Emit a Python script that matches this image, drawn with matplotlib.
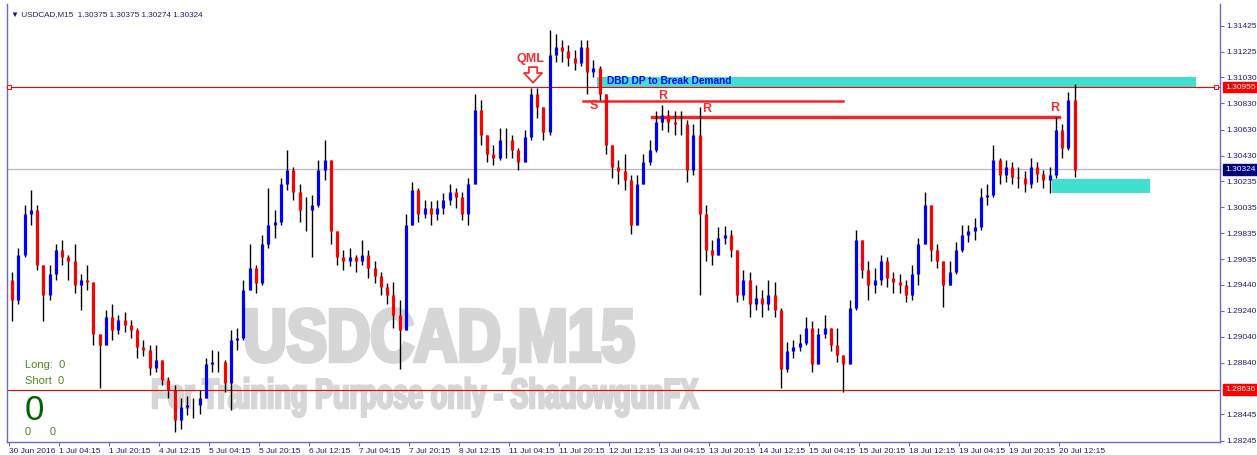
import matplotlib
matplotlib.use("Agg")
import matplotlib.pyplot as plt
import numpy as np
from matplotlib.textpath import TextPath
from matplotlib.patches import PathPatch
from matplotlib.font_manager import FontProperties
from matplotlib.transforms import Affine2D

# USDCAD M15, resampled to 2h candles (8 bars each)
closes = [
    1.2932, 1.2967, 1.2998, 1.3001, 1.2959, 1.2936, 1.2952, 1.2971, 1.2965, 1.2962,
    1.2944, 1.2948, 1.2946, 1.2906, 1.2898, 1.2919, 1.2909, 1.2917, 1.2913, 1.2909,
    1.2896, 1.2894, 1.2880, 1.2886, 1.2871, 1.2863, 1.2840, 1.2850, 1.2852, 1.2852,
    1.2857, 1.2883, 1.2885, 1.2885, 1.2869, 1.2902, 1.2903, 1.2940, 1.2957, 1.2945,
    1.2975, 1.2990, 1.2992, 1.3021, 1.3032, 1.3015, 1.3001, 1.3001, 1.3005, 1.3032,
    1.3040, 1.2985, 1.2965, 1.2962, 1.2965, 1.2962, 1.2967, 1.2957, 1.2951, 1.2942,
    1.2936, 1.2921, 1.2909, 1.2990, 1.3017, 1.2998, 1.3003, 1.2998, 1.3003, 1.3009,
    1.3015, 1.3011, 1.2998, 1.3021, 1.3078, 1.3059, 1.3044, 1.3041, 1.3055, 1.3055,
    1.3047, 1.3038, 1.3057, 1.3090, 1.3080, 1.3061, 1.3120, 1.3126, 1.3123, 1.3118,
    1.3114, 1.3126, 1.3107, 1.3110, 1.3090, 1.3051, 1.3034, 1.3031, 1.3024, 1.2990,
    1.3021, 1.3038, 1.3047, 1.3069, 1.3074, 1.3069, 1.3067, 1.3067, 1.3032, 1.3059,
    1.2998, 1.2971, 1.2967, 1.2980, 1.2982, 1.2971, 1.2936, 1.2948, 1.2929, 1.2934,
    1.2929, 1.2936, 1.2925, 1.2879, 1.2893, 1.2896, 1.2899, 1.2911, 1.2883, 1.2906,
    1.2911, 1.2898, 1.2890, 1.2883, 1.2926, 1.2978, 1.2955, 1.2944, 1.2948, 1.2962,
    1.2949, 1.2946, 1.2944, 1.2936, 1.2952, 1.2975, 1.3005, 1.2971, 1.2962, 1.2944,
    1.2954, 1.2971, 1.2982, 1.2985, 1.2988, 1.3011, 1.3013, 1.3040, 1.3028, 1.3034,
    1.3027, 1.3026, 1.3021, 1.3034, 1.3029, 1.3024, 1.3028, 1.3063, 1.3049, 1.3086,
    1.3032,
]
highs = [
    1.2954, 1.2972, 1.3005, 1.3017, 1.3005, 1.2955, 1.2959, 1.2975, 1.2978, 1.2967,
    1.2975, 1.2952, 1.2959, 1.2944, 1.2906, 1.2925, 1.2929, 1.2921, 1.2923, 1.2917,
    1.2911, 1.2902, 1.2898, 1.2898, 1.2886, 1.2873, 1.2867, 1.2857, 1.2859, 1.2857,
    1.2863, 1.2888, 1.2894, 1.2893, 1.2886, 1.2909, 1.2911, 1.2948, 1.2975, 1.2959,
    1.2982, 1.3018, 1.3001, 1.3026, 1.3047, 1.3034, 1.3021, 1.3011, 1.3013, 1.3040,
    1.3055, 1.3036, 1.2982, 1.2971, 1.2972, 1.2967, 1.2978, 1.2971, 1.2962, 1.2954,
    1.2945, 1.2946, 1.2932, 1.2998, 1.3023, 1.3018, 1.3009, 1.3008, 1.3009, 1.3014,
    1.3021, 1.3018, 1.3015, 1.3026, 1.3090, 1.3086, 1.3059, 1.3051, 1.3064, 1.3064,
    1.3059, 1.3049, 1.3063, 1.3095, 1.3095, 1.3078, 1.3139, 1.3136, 1.3132, 1.3128,
    1.3124, 1.3132, 1.3132, 1.3116, 1.3112, 1.3090, 1.3051, 1.3040, 1.3044, 1.3028,
    1.3028, 1.3044, 1.3055, 1.3077, 1.3082, 1.3078, 1.3077, 1.3077, 1.3070, 1.3067,
    1.3080, 1.3005, 1.2978, 1.2988, 1.2989, 1.2986, 1.2971, 1.2955, 1.2954, 1.2944,
    1.2940, 1.2948, 1.2946, 1.2926, 1.2900, 1.2902, 1.2906, 1.2919, 1.2916, 1.2911,
    1.2921, 1.2911, 1.2911, 1.2890, 1.2932, 1.2986, 1.2978, 1.2962, 1.2957, 1.2967,
    1.2965, 1.2954, 1.2952, 1.2948, 1.2959, 1.2980, 1.3015, 1.3005, 1.2975, 1.2962,
    1.2962, 1.2977, 1.2990, 1.2990, 1.2995, 1.3018, 1.3021, 1.3051, 1.3041, 1.3040,
    1.3038, 1.3034, 1.3031, 1.3041, 1.3038, 1.3032, 1.3034, 1.3073, 1.3067, 1.3092,
    1.3098,
]
lows = [
    1.2916, 1.2929, 1.2965, 1.2990, 1.2955, 1.2916, 1.2932, 1.2948, 1.2959, 1.2948,
    1.2938, 1.2925, 1.2940, 1.2898, 1.2865, 1.2898, 1.2902, 1.2906, 1.2908, 1.2903,
    1.2888, 1.2889, 1.2875, 1.2877, 1.2867, 1.2857, 1.2831, 1.2833, 1.2844, 1.2842,
    1.2845, 1.2859, 1.2877, 1.2877, 1.2862, 1.2848, 1.2894, 1.2902, 1.2940, 1.2938,
    1.2944, 1.2972, 1.2980, 1.2990, 1.3017, 1.3009, 1.2992, 1.2985, 1.2965, 1.3004,
    1.3024, 1.2975, 1.2959, 1.2955, 1.2958, 1.2954, 1.2959, 1.2949, 1.2945, 1.2936,
    1.2929, 1.2911, 1.2879, 1.2932, 1.2990, 1.2992, 1.2995, 1.2990, 1.2994, 1.2998,
    1.3005, 1.3003, 1.2994, 1.2990, 1.3024, 1.3051, 1.3038, 1.3036, 1.3040, 1.3041,
    1.3041, 1.3032, 1.3040, 1.3055, 1.3072, 1.3055, 1.3059, 1.3115, 1.3115, 1.3112,
    1.3109, 1.3112, 1.3090, 1.3103, 1.3086, 1.3044, 1.3026, 1.3021, 1.3017, 1.2983,
    1.2990, 1.3021, 1.3036, 1.3046, 1.3063, 1.3061, 1.3059, 1.3059, 1.3023, 1.3028,
    1.2936, 1.2962, 1.2959, 1.2967, 1.2975, 1.2965, 1.2931, 1.2932, 1.2919, 1.2925,
    1.2919, 1.2925, 1.2919, 1.2865, 1.2877, 1.2888, 1.2893, 1.2898, 1.2877, 1.2888,
    1.2903, 1.2893, 1.2885, 1.2862, 1.2883, 1.2925, 1.2949, 1.2932, 1.2938, 1.2944,
    1.2942, 1.2938, 1.2938, 1.2931, 1.2932, 1.2944, 1.2975, 1.2962, 1.2957, 1.2927,
    1.2944, 1.2952, 1.2969, 1.2977, 1.2978, 1.2986, 1.3005, 1.3011, 1.3021, 1.3023,
    1.3021, 1.3018, 1.3015, 1.3018, 1.3023, 1.3018, 1.3014, 1.3026, 1.3041, 1.3047,
    1.3027,
]
first_open = 1.2948

# right-hand price scale and time scale
price_ticks = [1.31425, 1.31225, 1.31030, 1.30830, 1.30630, 1.30430, 1.30235, 1.30035,
               1.29835, 1.29635, 1.29440, 1.29240, 1.29040, 1.28840, 1.28445, 1.28245]
time_labels = ["30 Jun 2016", "1 Jul 04:15", "1 Jul 20:15", "4 Jul 12:15", "5 Jul 04:15",
               "5 Jul 20:15", "6 Jul 12:15", "7 Jul 04:15", "7 Jul 20:15", "8 Jul 12:15",
               "11 Jul 04:15", "11 Jul 20:15", "12 Jul 12:15", "13 Jul 04:15", "13 Jul 20:15",
               "14 Jul 12:15", "15 Jul 04:15", "15 Jul 20:15", "18 Jul 12:15", "19 Jul 04:15",
               "19 Jul 20:15", "20 Jul 12:15"]
bars_per_label = 64
bars_per_candle = 8

# levels drawn on the chart
qml_level = 1.30955
bid_level = 1.30324
low_level = 1.28636
s_level = 1.30852
r_level = 1.30729
supply_zone = (1.30955, 1.31031)
demand_zone = (1.30141, 1.30251)

closes = np.array(closes)
opens = np.concatenate([[first_open], closes[:-1]])
highs = np.maximum(np.array(highs), np.maximum(opens, closes))
lows = np.minimum(np.array(lows), np.minimum(opens, closes))
x = np.arange(len(closes)) * bars_per_candle + bars_per_candle / 2

W, H = 1257, 455
AX_L, AX_B, AX_W, AX_H = 7, 13, 1213, 438
fig = plt.figure(figsize=(W / 100, H / 100), dpi=100)
fig.patch.set_facecolor("white")
ax = fig.add_axes([AX_L / W, AX_B / H, AX_W / W, AX_H / H])
ax.set_xlim(-2.6, 1550)
ax.set_ylim(1.28234, 1.31593)

FONT = ["Liberation Sans", "DejaVu Sans"]
NAVY = "#1c1c6c"
AX_COL = "#6a6ac8"
WM_COL = "#d6d6d6"


def watermark(text, left_px, baseline_px, width_px, cap_px, stroke):
    # squeeze a heavy text path into a box given in image pixels
    tp = TextPath((0, 0), text, size=1,
                  prop=FontProperties(family="Liberation Sans", weight="bold"))
    ext = tp.get_extents()
    sx = width_px / ext.width / AX_W
    sy = cap_px / 0.716 / AX_H
    x0 = (left_px - AX_L) / AX_W - ext.x0 * sx
    y0 = (H - AX_B - baseline_px) / AX_H
    tr = Affine2D().scale(sx, sy).translate(x0, y0) + ax.transAxes
    ax.add_patch(PathPatch(tp, transform=tr, fc=WM_COL, ec=WM_COL, lw=stroke,
                           joinstyle="miter", zorder=0))


watermark("USDCAD,M15", 247, 361, 386, 53, 3.2)
watermark("For Training Purpose only - ShadowgunFX", 153, 408, 545, 30, 1.8)

# zones
ax.fill_between([752, 1519], supply_zone[0], supply_zone[1], color="#40e0d0", lw=0, zorder=1)
ax.fill_between([1335, 1460], demand_zone[0], demand_zone[1], color="#40e0d0", lw=0, zorder=1)

# horizontal levels
ax.axhline(qml_level, color="#ff0000", lw=0.8, zorder=2)
ax.axhline(bid_level, color="#b8b8c8", lw=0.9, zorder=2)
ax.axhline(low_level, color="#ff0000", lw=0.8, zorder=2)
ax.plot([0.5, 1545], [qml_level, qml_level], ls="none", marker="s", ms=3,
        mfc="white", mec="#ff0000", mew=0.7, zorder=3)
ax.plot([735, 1067], [s_level, s_level], color="#ff2020", lw=1.8, zorder=2)
ax.plot([823, 1344], [r_level, r_level], color="#ff2020", lw=2.4, zorder=2)

# candles
up = closes >= opens
ax.vlines(x, lows, highs, color="black", lw=1.0, zorder=4)
ax.vlines(x[up], opens[up], closes[up], color="#0000ff", lw=2.3, zorder=5)
ax.vlines(x[~up], closes[~up], opens[~up], color="#ff0000", lw=2.3, zorder=5)

# annotations
RED = "#f03030"
ax.text(667, 1.31171, "QML", color=RED, fontsize=9, fontweight="bold", ha="center",
        va="center", family=FONT, zorder=6)
ax.annotate("", xy=(670.7, 1.30968), xytext=(670.7, 1.31130),
            arrowprops=dict(arrowstyle="simple,head_length=0.7,head_width=1.3,tail_width=0.6",
                            fc="white", ec=RED, lw=1.3), zorder=6)
ax.text(749, 1.30811, "S", color=RED, fontsize=9, fontweight="bold", ha="center", va="center",
        family=FONT, zorder=6)
ax.text(837, 1.30888, "R", color=RED, fontsize=9, fontweight="bold", ha="center", va="center",
        family=FONT, zorder=6)
ax.text(893, 1.30788, "R", color=RED, fontsize=9, fontweight="bold", ha="center", va="center",
        family=FONT, zorder=6)
ax.text(1338, 1.30796, "R", color=RED, fontsize=9, fontweight="bold", ha="center", va="center",
        family=FONT, zorder=6)
ax.text(765, 1.31000, "DBD DP to Break Demand", color="#0000ff", fontsize=7.3,
        fontweight="bold", ha="left", va="center", family=FONT, zorder=6)

# account info
GREEN = "#4f8a1e"
ax.text(0.0148, 0.176, "Long:  0", transform=ax.transAxes, color=GREEN, fontsize=8,
        va="center", family=FONT)
ax.text(0.0148, 0.139, "Short  0", transform=ax.transAxes, color=GREEN, fontsize=8,
        va="center", family=FONT)
ax.text(0.0148, 0.073, "0", transform=ax.transAxes, color="#006400", fontsize=25,
        va="center", family=FONT)
ax.text(0.0148, 0.023, "0      0", transform=ax.transAxes, color=GREEN, fontsize=8,
        va="center", family=FONT)

# axes styling
ax.spines["top"].set_visible(False)
for side in ["left", "right", "bottom"]:
    ax.spines[side].set_color(AX_COL)
    ax.spines[side].set_linewidth(1.0)

ax.yaxis.tick_right()
ax.set_yticks(price_ticks)
ax.set_yticklabels([f"{p:.5f}" for p in price_ticks])
ax.set_xticks([k * bars_per_label for k in range(len(time_labels))])
ax.set_xticklabels(time_labels)
for lab in ax.get_xticklabels():
    lab.set_horizontalalignment("left")
ax.tick_params(axis="both", direction="out", length=3, width=0.8, color=AX_COL,
               labelsize=6, labelcolor=NAVY, pad=1.5)
for lab in ax.get_xticklabels() + ax.get_yticklabels():
    lab.set_family(FONT)

# price boxes on the right scale
ytr = ax.get_yaxis_transform()
for lvl, bg in [(qml_level, "#ff0000"), (bid_level, "#000080"), (low_level, "#ff0000")]:
    ax.text(1.004, lvl, f"{lvl:.5f}", transform=ytr, ha="left", va="center", fontsize=6,
            color="white", family=FONT, clip_on=False, zorder=10,
            bbox=dict(boxstyle="square,pad=0.2", fc=bg, ec=bg))

# header
fig.text(11 / W, 1 - 15 / H, "\u25bc USDCAD,M15  1.30375 1.30375 1.30274 1.30324",
         fontsize=5.9, color=NAVY, va="center", family=FONT)

fig.savefig("out.png", dpi=100, facecolor="white")
